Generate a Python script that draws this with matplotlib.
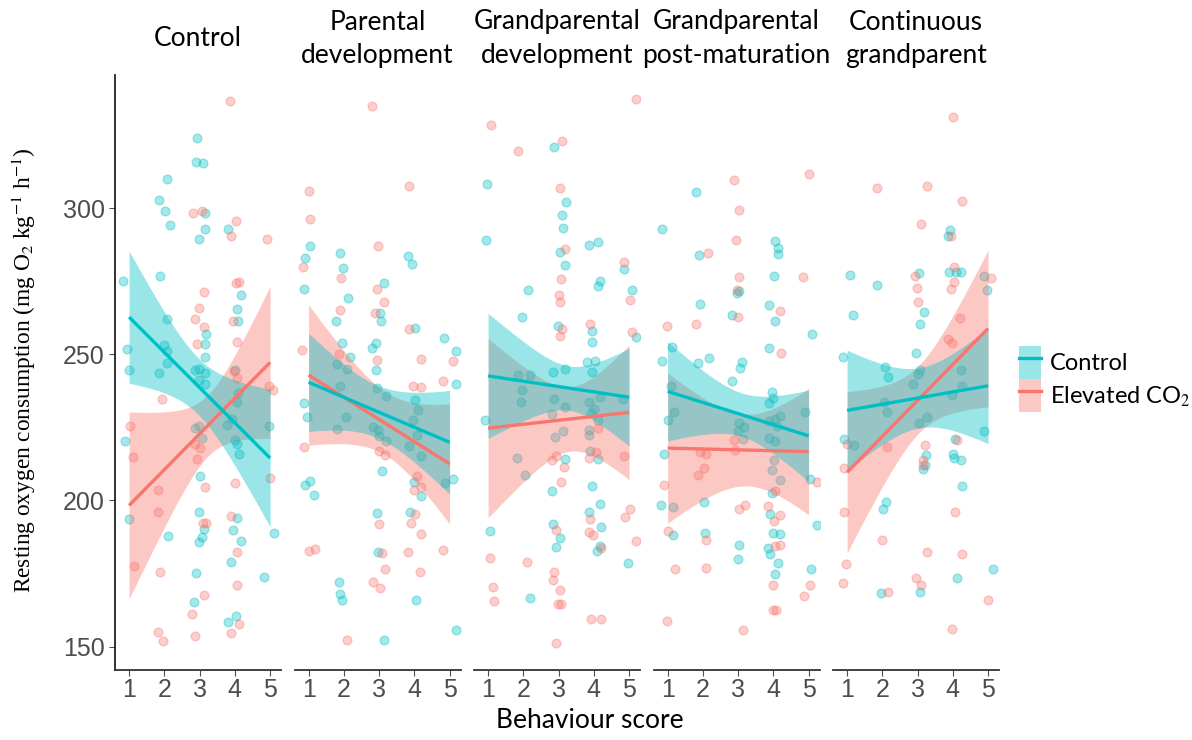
import numpy as np
import matplotlib
matplotlib.use("Agg")
import matplotlib.pyplot as plt
from matplotlib.patches import Patch
from matplotlib.lines import Line2D

plt.rcParams['mathtext.fontset'] = 'stix'

facets = ["Control", "Parental\ndevelopment", "Grandparental\ndevelopment",
          "Grandparental\npost-maturation", "Continuous\ngrandparent"]
groups = ["Control", "Elevated CO$_2$"]
teal = "#00BFC4"
salmon = "#F8766D"

# jittered behaviour score (x) and resting oxygen consumption (y), one list per facet
ctrl_x = [
    [2.94, 2.90, 3.11, 2.07, 1.86, 2.03, 2.17, 3.15, 3.16, 2.97, 3.81, 0.83, 1.88, 4.18, 4.06, 2.07, 4.10, 3.18, 3.14, 2.00,
     0.95, 2.07, 3.14, 2.07, 1.01, 1.86, 2.87, 2.97, 3.15, 4.00, 2.99, 3.15, 4.10, 4.07, 0.89, 2.87, 2.97, 3.06, 3.79, 3.93,
     4.01, 4.06, 4.13, 4.98, 3.01, 1.00, 2.99, 3.13, 3.07, 2.97, 4.07, 3.96, 4.18, 2.10, 2.90, 3.89, 4.83, 5.11, 2.84, 4.03, 3.80],
    [1.05, 0.91, 0.87, 1.88, 1.97, 2.13, 1.79, 1.94, 2.18, 1.81, 2.10, 3.14, 3.03, 3.06, 2.90, 2.80, 2.92, 3.82, 3.93, 4.01,
     4.83, 5.19, 5.17, 0.86, 0.95, 1.90, 2.05, 1.81, 2.94, 3.20, 2.82, 2.97, 3.01, 3.20, 3.09, 4.01, 4.10, 3.96, 4.07, 3.85,
     4.20, 3.99, 4.18, 4.86, 5.11, 0.89, 1.05, 1.14, 2.94, 3.88, 2.97, 1.86, 1.90, 1.95, 4.06, 5.19, 3.14],
    [2.88, 0.98, 3.20, 3.09, 3.12, 0.95, 3.85, 4.13, 3.05, 3.18, 4.87, 2.13, 4.17, 4.11, 5.07, 1.95, 2.97, 3.95, 3.95, 5.21,
     3.80, 4.04, 1.86, 2.18, 2.84, 3.18, 3.95, 1.97, 1.93, 2.87, 3.18, 2.81, 3.87, 4.00, 3.91, 4.17, 4.13, 4.83, 0.91, 3.13,
     2.90, 3.85, 3.85, 1.81, 2.05, 3.18, 3.89, 4.12, 2.82, 3.96, 4.17, 3.85, 4.20, 4.17, 4.08, 4.98, 2.84, 3.04, 2.94, 1.05, 2.19],
    [1.82, 0.84, 1.90, 4.05, 4.13, 4.12, 4.03, 2.97, 3.04, 1.91, 2.84, 3.89, 4.06, 5.11, 3.89, 0.84, 1.12, 1.86, 2.18, 3.11,
     3.06, 2.84, 1.10, 3.96, 4.00, 3.89, 1.17, 1.00, 4.20, 4.06, 3.89, 4.09, 3.04, 3.16, 3.01, 3.89, 4.04, 3.14, 4.89, 0.91,
     4.01, 3.96, 4.20, 3.96, 5.03, 0.82, 1.15, 2.02, 3.91, 1.14, 2.05, 3.99, 4.20, 3.03, 3.84, 3.91, 3.01, 4.13, 4.04, 5.07, 5.24],
    [3.91, 3.87, 3.89, 4.08, 4.23, 1.09, 1.86, 3.05, 3.18, 3.06, 1.18, 4.89, 4.96, 0.87, 2.95, 2.08, 2.17, 3.06, 4.23, 3.02,
     2.87, 4.27, 3.97, 2.05, 2.12, 3.04, 3.28, 4.89, 0.90, 1.20, 4.06, 3.23, 3.14, 3.20, 4.01, 4.03, 4.23, 4.27, 2.10, 2.02,
     5.15, 4.13, 1.96, 3.07],
]
ctrl_y = [
    [323.8, 315.8, 315.3, 309.8, 302.7, 299.0, 294.2, 298.2, 293.0, 289.3, 293.0, 275.1, 276.9, 270.3, 265.4, 262.0, 261.4, 256.8, 253.4, 253.2,
     251.7, 251.2, 249.0, 246.9, 244.6, 243.5, 244.6, 245.0, 243.5, 244.6, 241.2, 239.7, 236.9, 233.5, 220.2, 224.7, 225.5, 221.3, 225.8, 228.0,
     220.7, 219.4, 215.9, 225.5, 208.3, 193.7, 196.0, 190.3, 187.4, 185.8, 194.1, 189.8, 186.2, 187.7, 175.2, 178.8, 173.7, 188.8, 165.3, 160.4, 158.3],
    [287.0, 282.8, 272.2, 284.5, 279.6, 269.4, 261.2, 254.0, 249.0, 246.7, 244.9, 274.5, 264.2, 261.2, 253.8, 252.3, 244.5, 283.6, 281.0, 258.9,
     255.7, 251.1, 239.9, 233.3, 228.5, 239.2, 228.7, 224.4, 238.4, 235.8, 225.1, 224.2, 221.9, 220.2, 210.2, 234.2, 231.0, 227.4, 222.4, 218.7,
     215.3, 206.4, 201.4, 206.1, 207.4, 205.4, 206.7, 201.9, 195.7, 195.9, 182.2, 172.0, 168.0, 166.1, 166.1, 155.6, 152.2],
    [321.0, 308.3, 302.2, 297.7, 293.2, 289.0, 287.2, 288.5, 285.1, 280.5, 279.1, 272.0, 275.1, 273.4, 272.0, 262.6, 259.5, 258.1, 254.3, 255.9,
     247.2, 247.6, 243.0, 243.0, 243.9, 244.9, 243.8, 237.8, 233.6, 234.6, 232.1, 229.6, 233.8, 231.2, 229.8, 235.3, 227.6, 234.6, 227.4, 223.7,
     221.7, 224.0, 222.4, 214.6, 208.8, 214.2, 216.8, 214.2, 203.3, 205.0, 198.9, 195.9, 190.8, 184.3, 182.8, 178.5, 192.0, 187.3, 184.0, 189.5, 166.6],
    [305.4, 293.0, 283.9, 288.7, 286.2, 284.3, 276.9, 271.1, 271.5, 267.2, 263.5, 266.9, 261.5, 257.0, 252.0, 247.8, 252.6, 246.9, 248.6, 247.5,
     245.2, 241.0, 239.2, 237.2, 235.0, 233.3, 230.1, 227.6, 228.9, 227.8, 227.3, 225.3, 226.6, 225.1, 223.6, 221.3, 220.2, 221.0, 230.1, 215.9,
     213.9, 210.3, 207.1, 202.7, 207.3, 198.3, 197.6, 199.4, 195.4, 188.3, 189.0, 189.0, 188.5, 184.8, 183.7, 181.6, 179.9, 178.5, 174.9, 176.5, 191.7],
    [292.6, 290.4, 278.2, 278.2, 278.0, 277.1, 273.7, 277.7, 264.4, 260.4, 263.4, 276.7, 271.8, 249.2, 250.4, 245.6, 242.2, 244.7, 244.7, 243.3,
     239.9, 239.2, 236.1, 233.8, 230.1, 226.6, 228.5, 223.6, 221.1, 219.0, 221.1, 215.6, 210.8, 212.0, 215.9, 214.5, 213.9, 205.1, 199.5, 197.0,
     176.5, 173.4, 168.3, 168.6],
]
co2_x = [
    [3.85, 2.80, 3.07, 4.02, 3.88, 4.92, 3.13, 4.04, 4.13, 2.97, 2.87, 3.96, 3.13, 4.07, 2.92, 3.98, 4.06, 1.93, 4.98, 5.08,
     1.03, 1.12, 2.87, 3.01, 2.94, 5.00, 3.14, 4.01, 1.83, 1.83, 3.10, 3.19, 3.88, 4.07, 1.15, 1.88, 4.06, 3.13, 2.78, 4.13,
     3.88, 1.83, 1.95, 2.87],
    [2.81, 1.01, 1.05, 3.84, 0.84, 0.82, 1.91, 1.88, 1.85, 2.98, 2.94, 3.13, 2.89, 2.95, 3.84, 4.20, 5.11, 4.81, 3.96, 4.20,
     0.86, 2.99, 3.16, 4.08, 4.18, 3.98, 2.99, 4.01, 3.90, 4.20, 1.01, 1.17, 3.09, 3.18, 3.82, 4.81, 4.17, 2.84, 3.03, 2.09],
    [5.21, 1.09, 1.84, 3.09, 3.04, 3.18, 4.87, 3.08, 3.01, 3.05, 5.03, 3.10, 3.05, 3.89, 5.09, 4.13, 2.94, 2.80, 3.14, 3.08,
     4.06, 3.87, 4.87, 3.89, 3.87, 3.99, 4.21, 5.02, 4.89, 5.19, 2.94, 1.05, 2.10, 1.14, 1.17, 2.87, 2.84, 3.04, 2.97, 3.08,
     3.93, 4.21, 2.94],
    [5.00, 2.88, 3.03, 2.94, 2.14, 3.04, 4.85, 2.96, 1.82, 0.98, 3.01, 4.20, 4.23, 2.87, 2.90, 1.93, 2.09, 2.02, 1.86, 4.06,
     5.24, 0.91, 3.03, 3.20, 3.84, 4.20, 4.01, 1.01, 2.09, 4.06, 4.20, 1.20, 2.09, 3.99, 5.05, 4.88, 3.98, 4.07, 0.98, 3.13],
    [4.01, 1.86, 3.26, 4.25, 3.10, 3.95, 4.04, 4.04, 3.95, 2.93, 2.98, 3.00, 5.08, 4.21, 3.87, 3.97, 1.01, 2.12, 3.21, 4.13,
     3.14, 3.16, 0.91, 0.90, 4.06, 2.00, 3.26, 4.26, 0.96, 0.87, 2.95, 3.09, 2.16, 5.01, 3.97],
]
co2_y = [
    [336.7, 298.2, 299.1, 295.5, 290.4, 289.5, 271.2, 274.4, 274.7, 265.7, 262.0, 261.4, 259.2, 254.1, 253.5, 244.1, 241.8, 234.6, 239.2, 237.6,
     225.5, 214.8, 219.4, 217.8, 214.2, 207.6, 204.5, 205.9, 203.6, 196.0, 192.3, 192.3, 194.5, 182.2, 177.4, 175.5, 171.2, 167.5, 161.3, 157.9,
     154.7, 154.9, 151.8, 153.5],
    [334.9, 305.9, 296.1, 307.7, 279.7, 251.3, 275.9, 265.2, 250.0, 287.1, 272.2, 267.7, 264.0, 248.1, 258.7, 248.4, 247.7, 240.7, 239.2, 238.7,
     218.3, 216.8, 215.6, 208.4, 204.7, 203.4, 192.0, 195.3, 192.3, 188.5, 182.6, 183.4, 182.1, 176.5, 182.2, 182.9, 175.4, 172.0, 170.0, 152.1],
    [337.3, 328.4, 319.6, 322.8, 307.0, 285.9, 281.7, 275.6, 270.3, 267.7, 268.4, 258.6, 256.3, 260.4, 257.5, 224.7, 215.3, 213.7, 211.4, 206.3,
     216.4, 214.5, 215.3, 193.7, 189.2, 188.3, 183.7, 197.0, 194.2, 186.0, 189.8, 180.3, 178.8, 170.4, 165.5, 175.5, 172.7, 169.2, 164.7, 164.7,
     159.5, 159.5, 151.3],
    [311.8, 309.6, 299.3, 289.1, 284.7, 276.5, 276.3, 272.0, 260.5, 259.7, 262.7, 264.8, 250.4, 220.7, 217.3, 216.4, 215.9, 211.0, 208.6, 203.1,
     206.2, 205.4, 197.0, 198.5, 198.2, 195.1, 192.8, 189.4, 186.3, 184.3, 184.8, 176.6, 177.0, 171.2, 171.0, 167.2, 162.6, 162.6, 158.6, 155.8],
    [331.2, 307.0, 307.4, 302.5, 294.5, 290.4, 279.7, 274.8, 272.3, 276.9, 272.6, 268.0, 276.2, 262.5, 255.1, 254.0, 219.4, 218.2, 219.0, 220.5,
     213.7, 212.2, 211.0, 196.0, 196.2, 186.6, 182.5, 181.8, 178.4, 171.8, 173.4, 171.2, 168.6, 166.1, 156.0],
]

# fitted line at score 1 and score 5, and confidence half-widths at scores 1, 3, 5
ctrl_fit = [[262.7, 214.5], [240.4, 219.9], [242.6, 235.3], [237.3, 222.1], [230.8, 239.2]]
co2_fit = [[198.3, 247.2], [242.9, 212.5], [224.7, 230.1], [217.9, 216.7], [209.6, 258.8]]
ctrl_ci = [[22.6, 9.7, 23.5], [16.8, 9.0, 17.7], [21.4, 8.0, 16.7], [17.0, 7.5, 15.6], [20.6, 10.3, 19.8]]
co2_ci = [[32.0, 11.0, 26.0], [24.0, 11.0, 20.5], [30.7, 11.8, 23.0], [25.7, 12.5, 21.6], [27.6, 11.6, 26.8]]

W, H = 1192, 740
fig = plt.figure(figsize=(W / 100, H / 100), dpi=100)


def smooth(ax, fit, ci, color):
    xs = np.linspace(1, 5, 120)
    mid = np.interp(xs, [1, 5], fit)
    # regression CI: half-width squared is quadratic in x
    coef = np.polyfit([1, 3, 5], np.square(ci), 2)
    half = np.sqrt(np.polyval(coef, xs))
    ax.fill_between(xs, mid - half, mid + half, color=color, alpha=0.4, linewidth=0)
    ax.plot([1, 5], fit, color=color, linewidth=2.4, solid_capstyle='butt')


for i, title in enumerate(facets):
    left = 115 + i * 179.5
    ax = fig.add_axes([left / W, 70 / H, 166 / W, 595 / H])
    ax.scatter(ctrl_x[i], ctrl_y[i], s=40, color=teal, alpha=0.35, linewidths=1)
    ax.scatter(co2_x[i], co2_y[i], s=40, color=salmon, alpha=0.35, linewidths=1)
    smooth(ax, co2_fit[i], co2_ci[i], salmon)
    smooth(ax, ctrl_fit[i], ctrl_ci[i], teal)
    ax.set_xlim(0.6, 5.31)
    ax.set_ylim(142, 345.5)
    ax.set_xticks([1, 2, 3, 4, 5])
    ax.set_yticks([150, 200, 250, 300])
    for s in ['top', 'right']:
        ax.spines[s].set_visible(False)
    ax.spines['bottom'].set_color('#333333')
    ax.spines['bottom'].set_linewidth(1.3)
    ax.tick_params(axis='x', labelsize=18, colors='#4D4D4D', length=4, pad=2)
    if i == 0:
        ax.spines['left'].set_color('#222222')
        ax.spines['left'].set_linewidth(1.3)
        ax.tick_params(axis='y', labelsize=18, colors='#4D4D4D', length=4)
    else:
        ax.spines['left'].set_visible(False)
        ax.tick_params(axis='y', left=False, labelleft=False)
    for lab in ax.get_xticklabels() + ax.get_yticklabels():
        lab.set_family('Liberation Sans')
    fig.text((left + 83) / W, 1 - 39 / H, title, ha='center', va='center',
             fontsize=19, family='Lato', linespacing=1.45)

fig.text(590 / W, 1 - 720 / H, "Behaviour score", ha='center', va='center',
         fontsize=19, family='Lato')
fig.text(24 / W, 1 - 370 / H, r'Resting oxygen consumption (mg O$_2$ kg$^{-1}$ h$^{-1}$)',
         rotation=90, ha='center', va='center', fontsize=16.8, family='Liberation Serif')

handles = [(Patch(facecolor=teal, alpha=0.4, linewidth=0), Line2D([], [], color=teal, linewidth=2.4)),
           (Patch(facecolor=salmon, alpha=0.4, linewidth=0), Line2D([], [], color=salmon, linewidth=2.4))]
fig.legend(handles, groups, loc='center left', bbox_to_anchor=(1019 / W, 1 - 379 / H),
           frameon=False, borderpad=0, borderaxespad=0, handlelength=0.95, handleheight=1.8,
           labelspacing=0.0, handletextpad=0.35, prop={'family': 'Lato', 'size': 17})

fig.savefig("out.png", dpi=100)
